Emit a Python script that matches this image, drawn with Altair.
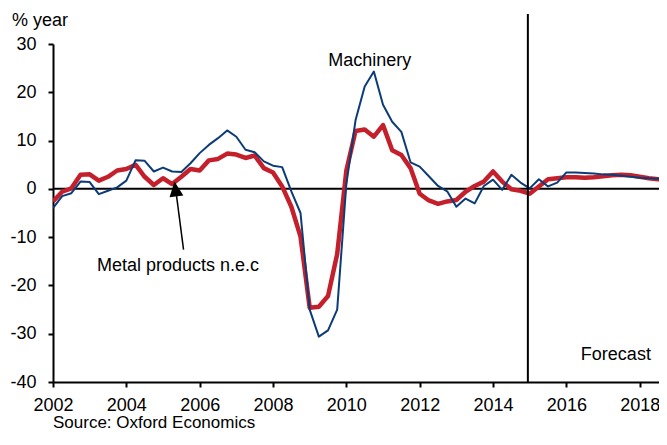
import altair as alt
import pandas as pd

FONT = "Liberation Sans"

# Quarterly series, first point = 2002 Q1 plotted at 2002.0
start_year = 2002.0
metal_products = [
    -2.6, -0.6, 0.1, 2.9,
    3.0, 1.7, 2.5, 3.8,
    4.1, 5.0, 2.5, 0.8,
    2.2, 1.0, 2.5, 4.1,
    3.8, 5.9, 6.2, 7.3,
    7.1, 6.4, 6.9, 4.3,
    3.4, 0.5, -3.7, -9.9,
    -24.6, -24.4, -22.2, -13.5,
    3.8, 12.0, 12.3, 10.8,
    13.2, 8.0, 7.0, 4.3,
    -1.0, -2.4, -3.1, -2.6,
    -2.3, -0.6, 0.6, 1.5,
    3.6, 1.5, -0.1, -0.4,
    -1.0, 0.5, 2.0, 2.2,
    2.4, 2.4, 2.3, 2.4,
    2.6, 2.8, 2.9, 2.8,
    2.5, 2.2, 2.0, 1.9,
]
machinery = [
    -4.0, -1.5, -0.9, 1.5,
    1.4, -1.1, -0.4, 0.3,
    1.7, 5.9, 5.8, 3.6,
    4.4, 3.6, 3.5, 5.3,
    7.4, 9.1, 10.5, 12.1,
    10.8, 8.1, 7.6, 5.7,
    4.8, 4.5, -0.5, -5.0,
    -25.0, -30.6, -29.3, -25.0,
    1.0, 14.2, 21.2, 24.3,
    17.4, 13.9, 11.8, 5.5,
    4.6, 2.6, 0.6, -0.5,
    -3.7, -2.0, -3.0, 0.6,
    1.9, -0.2, 2.9, 1.3,
    0.1, 2.0, 0.5, 1.3,
    3.4, 3.4, 3.3, 3.2,
    3.0, 2.9, 2.7, 2.5,
    2.3, 2.2, 2.1, 1.9,
]
quarters = [start_year + 0.25 * i for i in range(len(machinery))]

x_ticks = list(range(2002, 2019))
y_ticks = [-40, -30, -20, -10, 0, 10, 20, 30]
x_domain = [2002, 2018.526]
y_domain = [-40, 30]
forecast_start = 2014.95

labels = ["Machinery", "Metal products n.e.c", "Forecast"]
label_x = [2010.64, 2005.41, 2017.35]
label_y = [25.5, -17.1, -35.4]

arrow_from = (2005.56, -12.6)
arrow_to = (2005.37, -1.5)
arrow_head = (2005.34, 0.0)

df_metal = pd.DataFrame({"t": quarters, "v": metal_products})
df_mach = pd.DataFrame({"t": quarters, "v": machinery})

xscale = alt.Scale(domain=x_domain, nice=False, zero=False)
yscale = alt.Scale(domain=y_domain, nice=False, zero=False)

xaxis = alt.Axis(
    values=x_ticks,
    labelExpr="datum.value % 2 == 0 ? '' + datum.value : ''",
    title=None, grid=False, tickSize=5, tickWidth=2, tickColor="black",
    domainColor="black", domainWidth=2, labelFont=FONT, labelFontSize=18,
    labelColor="black", labelPadding=9, labelFlush=False, labelOverlap=False,
)
yaxis = alt.Axis(
    values=y_ticks, labelExpr="'' + datum.value",
    title="% year", titleAngle=0, titleAlign="left", titleBaseline="alphabetic",
    titleX=-41.5, titleY=-19, titleFont=FONT, titleFontSize=18,
    titleFontWeight="normal", titleColor="black",
    grid=False, tickSize=5, tickWidth=2, tickColor="black",
    domainColor="black", domainWidth=2, labelFont=FONT, labelFontSize=18,
    labelColor="black", labelPadding=12,
)

red_line = alt.Chart(df_metal).mark_line(
    color="#c4202b", strokeWidth=4.5, strokeJoin="round", clip=True
).encode(
    x=alt.X("t:Q", scale=xscale, axis=xaxis),
    y=alt.Y("v:Q", scale=yscale, axis=yaxis),
)
blue_line = alt.Chart(df_mach).mark_line(
    color="#0c3c78", strokeWidth=2, strokeJoin="round", clip=True
).encode(x="t:Q", y="v:Q")

zero_rule = alt.Chart(pd.DataFrame({"y": [0]})).mark_rule(
    color="black", strokeWidth=2
).encode(y="y:Q")

fc_rule = alt.Chart(pd.DataFrame({"x": [forecast_start], "y": [36.2], "y2": [-40]})).mark_rule(
    color="black", strokeWidth=2
).encode(x="x:Q", y="y:Q", y2="y2:Q")

arrow_line = alt.Chart(pd.DataFrame({
    "x": [arrow_from[0]], "y": [arrow_from[1]], "x2": [arrow_to[0]], "y2": [arrow_to[1]]
})).mark_rule(color="black", strokeWidth=1.5).encode(x="x:Q", y="y:Q", x2="x2:Q", y2="y2:Q")

arrow_tip = alt.Chart(pd.DataFrame({"x": [arrow_head[0]], "y": [arrow_head[1]]})).mark_point(
    shape="M0,-1L-0.93,1L0.93,1Z", size=225, filled=True, color="black",
    opacity=1, angle=352.5
).encode(x="x:Q", y="y:Q")

texts = alt.Chart(pd.DataFrame({"label": labels, "x": label_x, "y": label_y})).mark_text(
    font=FONT, fontSize=18, color="black", align="center", baseline="alphabetic"
).encode(x="x:Q", y="y:Q", text="label:N")

chart = alt.layer(
    zero_rule, red_line, blue_line, fc_rule, arrow_line, arrow_tip, texts
).properties(
    width=606, height=338,
    autosize=alt.AutoSizeParams(type="none"),
    padding={"left": 45, "top": 36, "right": 0, "bottom": 50},
    title=alt.TitleParams(
        "Source: Oxford Economics", orient="bottom", anchor="start", frame="group",
        font=FONT, fontSize=17, fontWeight="normal", color="black", offset=1,
    ),
).configure_view(stroke=None)

chart.save("out.html", embed_options={"renderer": "svg", "actions": False})
